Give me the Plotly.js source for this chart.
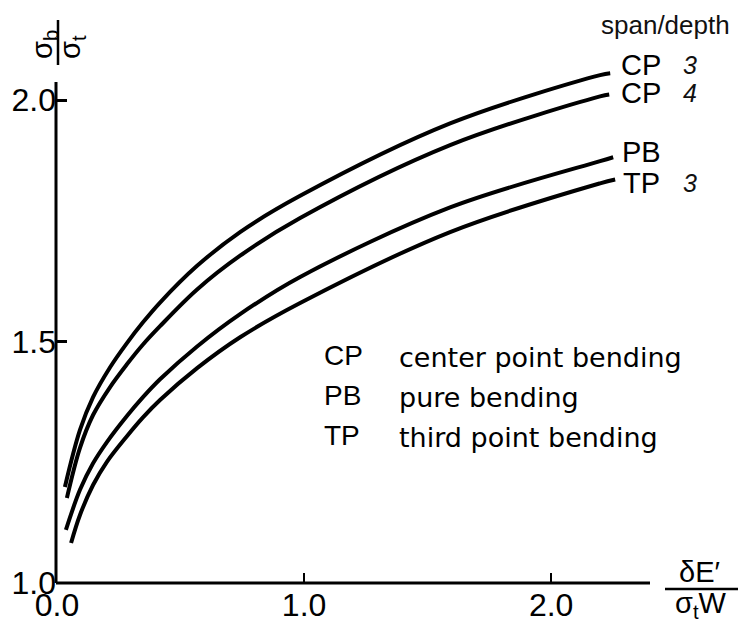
<!DOCTYPE html>
<html>
<head>
<meta charset="utf-8">
<script src="https://cdn.plot.ly/plotly-3.0.1.min.js"></script>
<style>html,body{margin:0;padding:0;background:#fff;}#chart{width:750px;height:625px;}</style>
</head>
<body>
<div id="chart"></div>
<script>
// ---- data ----
const cp3X = [0.032, 0.093, 0.146, 0.215, 0.283, 0.348, 0.417, 0.567, 0.741, 0.984, 1.591, 2.198, 2.239];
const cp3Y = [1.199, 1.317, 1.385, 1.447, 1.497, 1.540, 1.581, 1.657, 1.727, 1.802, 1.952, 2.052, 2.056];
const cp4X = [0.040, 0.093, 0.146, 0.215, 0.283, 0.348, 0.417, 0.567, 0.741, 0.984, 1.591, 2.198, 2.235];
const cp4Y = [1.176, 1.280, 1.348, 1.406, 1.453, 1.494, 1.532, 1.608, 1.678, 1.756, 1.907, 2.008, 2.012];
const pbX  = [0.036, 0.093, 0.146, 0.202, 0.283, 0.348, 0.417, 0.567, 0.741, 0.984, 1.591, 2.198, 2.251];
const pbY  = [1.110, 1.193, 1.248, 1.292, 1.346, 1.385, 1.422, 1.490, 1.557, 1.634, 1.778, 1.874, 1.882];
const tpX  = [0.057, 0.093, 0.146, 0.202, 0.283, 0.348, 0.417, 0.567, 0.741, 0.984, 1.591, 2.198, 2.259];
const tpY  = [1.083, 1.141, 1.203, 1.251, 1.304, 1.343, 1.379, 1.445, 1.509, 1.580, 1.727, 1.828, 1.836];

const xTickVals = [0, 1, 2];
const xTickText = ["0.0", "1.0", "2.0"];
const yTickVals = [1.0, 1.5, 2.0];
const yTickText = ["1.0", "1.5", "2.0"];

const curveLabels = [
  {code: "CP", ratio: "3"},
  {code: "CP", ratio: "4"},
  {code: "PB", ratio: ""},
  {code: "TP", ratio: "3"}
];
const legendCodes = ["CP", "PB", "TP"];
const legendTexts = ["center point bending", "pure bending", "third point bending"];

// ---- layout helpers (pixel -> paper) ----
const L = 57, T = 52, W = 593, H = 531;
const px = x => (x - L) / W;
const py = y => (T + H - y) / H;

const lineStyle = {color: "#000", width: 4, shape: "spline", smoothing: 1.0};
const traces = [[cp3X, cp3Y], [cp4X, cp4Y], [pbX, pbY], [tpX, tpY]].map(([x, y]) => ({
  x: x, y: y, type: "scatter", mode: "lines", line: lineStyle, hoverinfo: "skip", showlegend: false
}));

const fontMain = "Liberation Sans, Arial, sans-serif";
const fontText = "DejaVu Sans, sans-serif";

const ann = [];
function add(text, x, y, size, opts) {
  ann.push(Object.assign({
    text: text, xref: "paper", yref: "paper", x: px(x), y: py(y),
    showarrow: false, xanchor: "center", yanchor: "middle",
    font: {family: fontMain, size: size, color: "#000"}
  }, opts || {}));
}

// right-side curve labels
add("span/depth", 665, 25, 26, {font: {family: fontMain, size: 26, color: "#111"}});
const labelY = [65, 93, 152, 183];
curveLabels.forEach((c, i) => {
  add(c.code, 641, labelY[i], 29);
  if (c.ratio) add(c.ratio, 690, labelY[i], 25, {font: {family: fontMain, size: 25, color: "#111", style: "italic"}});
});

// legend block
const legY = [355, 395, 435];
legendCodes.forEach((c, i) => {
  add(c, 322, legY[i], 28, {xanchor: "left"});
  add(legendTexts[i], 397, legY[i] + 2, 27, {xanchor: "left", font: {family: fontText, size: 27, color: "#000"}});
});

// x-axis label (fraction)
add("δE′", 699, 572, 29);
add("σ<sub>t</sub>W", 701, 605, 29);
// y-axis label (rotated fraction)
add("σ<sub>b</sub>", 44, 45, 29, {textangle: -90});
add("σ<sub>t</sub>", 72, 47, 29, {textangle: -90});

const shapes = [
  {type: "line", xref: "paper", yref: "paper", x0: px(56), x1: px(650), y0: 0, y1: 0, line: {color: "#000", width: 3}},
  {type: "line", xref: "paper", yref: "paper", x0: px(56), x1: px(56), y0: 0, y1: py(82), line: {color: "#000", width: 3}},
  {type: "line", xref: "paper", yref: "paper", x0: px(665), x1: px(738), y0: py(589), y1: py(589), line: {color: "#000", width: 2.5}},
  {type: "line", xref: "paper", yref: "paper", x0: px(58), x1: px(58), y0: py(20), y1: py(65), line: {color: "#000", width: 2.5}}
];

const layout = {
  width: 750, height: 625,
  margin: {l: L, r: 750 - L - W, t: T, b: 625 - T - H, pad: 0},
  paper_bgcolor: "#fff", plot_bgcolor: "#fff",
  showlegend: false,
  xaxis: {
    range: [0, 2.4], showgrid: false, zeroline: false, showline: false,
    tickmode: "array", tickvals: xTickVals, ticktext: xTickText,
    ticks: "inside", ticklen: 10, tickwidth: 2.5, tickcolor: "#000",
    tickfont: {family: fontMain, size: 32, color: "#000"}
  },
  yaxis: {
    range: [1.0, 2.1], showgrid: false, zeroline: false, showline: false,
    tickmode: "array", tickvals: yTickVals, ticktext: yTickText,
    ticks: "inside", ticklen: 10, tickwidth: 2.5, tickcolor: "#000",
    tickfont: {family: fontMain, size: 32, color: "#000"}
  },
  annotations: ann,
  shapes: shapes
};

Plotly.newPlot("chart", traces, layout, {staticPlot: true, displayModeBar: false});
</script>
</body>
</html>
